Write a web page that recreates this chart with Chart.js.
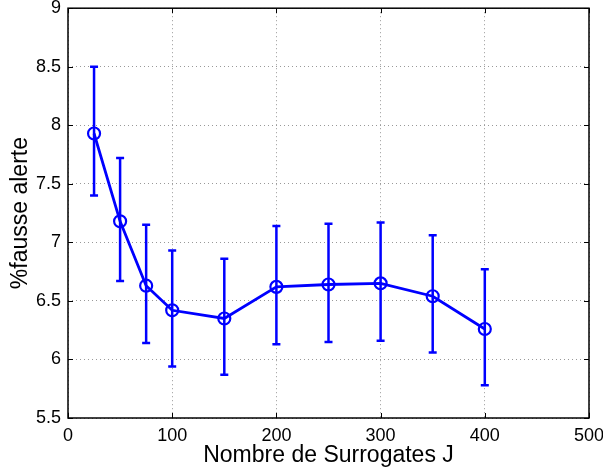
<!DOCTYPE html>
<html lang="fr">
<head>
<meta charset="UTF-8">
<title>Fausse alerte</title>
<script src="https://cdn.jsdelivr.net/npm/chart.js"></script>
<style>
  html, body { margin: 0; padding: 0; background: #fff; }
  #wrap { width: 603px; height: 469px; }
</style>
</head>
<body>
<div id="wrap"><canvas id="graphe"></canvas></div>
<script>
    // donnees
    const nombreJ = [25, 50, 75, 100, 150, 200, 250, 300, 350, 400];
    const fausseAlerte = [7.93, 7.18, 6.63, 6.42, 6.35, 6.62, 6.64, 6.65, 6.54, 6.26];
    const borneHaute = [8.50, 7.72, 7.15, 6.93, 6.86, 7.14, 7.16, 7.17, 7.06, 6.77];
    const borneBasse = [7.40, 6.67, 6.14, 5.94, 5.87, 6.13, 6.15, 6.16, 6.06, 5.78];

    const bleu = '#0000ff';

    // barres d'erreur + cadre + petites graduations
    const extras = {
        id: 'extras',
        afterDatasetsDraw(chart) {
            const ctx = chart.ctx;
            const sx = chart.scales.x, sy = chart.scales.y;
            ctx.save();
            ctx.strokeStyle = bleu;
            ctx.lineWidth = 2.5;
            nombreJ.forEach((j, i) => {
                const px = sx.getPixelForValue(j);
                const yh = sy.getPixelForValue(borneHaute[i]);
                const yb = sy.getPixelForValue(borneBasse[i]);
                ctx.beginPath();
                ctx.moveTo(px, yh); ctx.lineTo(px, yb);
                ctx.moveTo(px - 4, yh); ctx.lineTo(px + 4, yh);
                ctx.moveTo(px - 4, yb); ctx.lineTo(px + 4, yb);
                ctx.stroke();
            });
            const a = chart.chartArea;
            ctx.strokeStyle = '#000';
            ctx.lineWidth = 1;
            ctx.beginPath();
            sx.ticks.forEach(t => {
                const px = Math.round(sx.getPixelForValue(t.value)) + 0.5;
                ctx.moveTo(px, a.bottom); ctx.lineTo(px, a.bottom - 5);
                ctx.moveTo(px, a.top); ctx.lineTo(px, a.top + 5);
            });
            sy.ticks.forEach(t => {
                const py = Math.round(sy.getPixelForValue(t.value)) + 0.5;
                ctx.moveTo(a.left, py); ctx.lineTo(a.left + 5, py);
                ctx.moveTo(a.right, py); ctx.lineTo(a.right - 5, py);
            });
            ctx.stroke();
            ctx.lineWidth = 1.5;
            ctx.strokeRect(a.left, a.top, a.right - a.left, a.bottom - a.top);
            ctx.restore();
        }
    };

    new Chart(document.getElementById('graphe'), {
        type: 'line',
        data: {
            datasets: [{
                label: '%fausse alerte',
                data: nombreJ.map((j, i) => ({ x: j, y: fausseAlerte[i] })),
                borderColor: bleu,
                backgroundColor: 'rgba(0,0,0,0)',
                borderWidth: 2.8,
                pointStyle: 'circle',
                pointRadius: 6,
                pointBorderWidth: 2.2,
                pointBorderColor: bleu,
                pointBackgroundColor: 'rgba(0,0,0,0)',
                tension: 0
            }]
        },
        options: {
            responsive: true,
            maintainAspectRatio: false,
            animation: false,
            layout: { padding: { left: 0, right: 14, top: 7, bottom: 0 } },
            plugins: { legend: { display: false }, tooltip: { enabled: false } },
            scales: {
                x: {
                    type: 'linear',
                    min: 0, max: 500,
                    ticks: { stepSize: 100, color: '#000', padding: 7, maxRotation: 0,
                             font: { family: 'Liberation Sans', size: 18 } },
                    grid: { color: '#999', drawTicks: false, lineWidth: 1 },
                    border: { display: false, dash: [1, 3] },
                    title: { display: true, text: 'Nombre de Surrogates J', color: '#000', padding: { top: 0, bottom: 0 },
                             font: { family: 'Liberation Sans', size: 23 } },
                    afterFit(s) { s.height = 51; s.paddingLeft = 0; s.paddingRight = 0; }
                },
                y: {
                    min: 5.5, max: 9,
                    ticks: { stepSize: 0.5, color: '#000', padding: 7,
                             callback: v => String(v),
                             font: { family: 'Liberation Sans', size: 18 } },
                    grid: { color: '#999', drawTicks: false, lineWidth: 1 },
                    border: { display: false, dash: [1, 3] },
                    title: { display: true, text: '%fausse alerte', color: '#000', padding: { top: 7, bottom: 0 },
                             font: { family: 'Liberation Sans', size: 23 } },
                    afterFit(s) { s.width = 68; s.paddingTop = 0; s.paddingBottom = 0; }
                }
            }
        },
        plugins: [extras]
    });
</script>
</body>
</html>
